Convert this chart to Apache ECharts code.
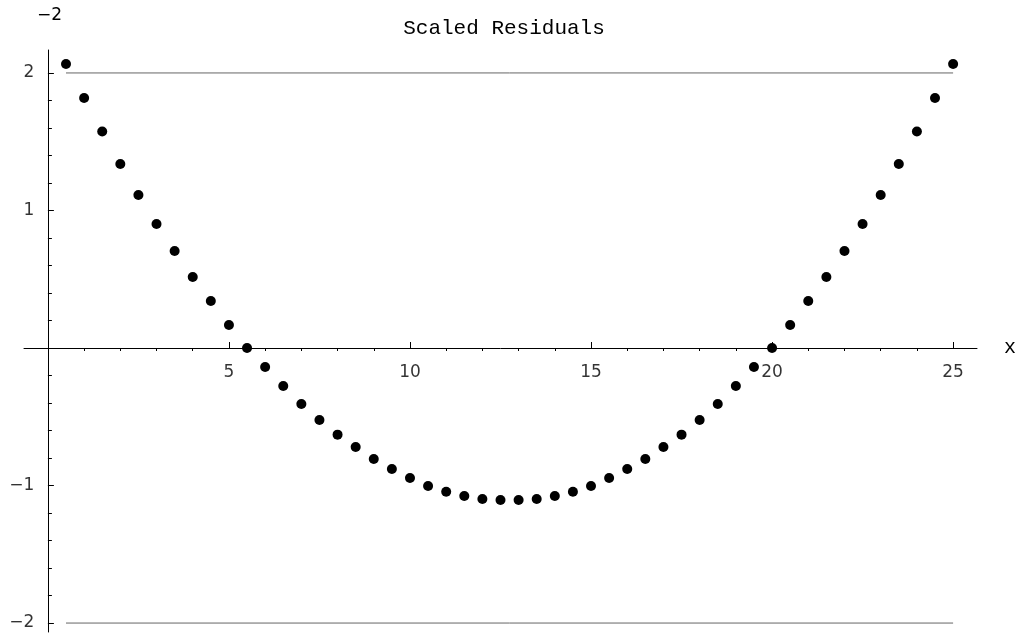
<!DOCTYPE html>
<html><head><meta charset="utf-8">
<script src="https://cdn.jsdelivr.net/npm/echarts@6/dist/echarts.min.js"></script>
<style>html,body{margin:0;padding:0;background:#fff}#c{width:1021px;height:639px}</style>
</head><body><div id="c"></div>
<script>
const xValues = [0.5,1,1.5,2,2.5,3,3.5,4,4.5,5,5.5,6,6.5,7,7.5,8,8.5,9,9.5,10,10.5,11,11.5,12,12.5,13,13.5,14,14.5,15,15.5,16,16.5,17,17.5,18,18.5,19,19.5,20,20.5,21,21.5,22,22.5,23,23.5,24,24.5,25];
const residuals = [2.065,1.818,1.575,1.338,1.113,0.902,0.705,0.516,0.342,0.167,0.0,-0.138,-0.276,-0.407,-0.524,-0.630,-0.720,-0.807,-0.880,-0.945,-1.004,-1.045,-1.076,-1.098,-1.105,-1.105,-1.098,-1.076,-1.045,-1.004,-0.945,-0.880,-0.807,-0.720,-0.630,-0.524,-0.407,-0.276,-0.138,0.0,0.167,0.342,0.516,0.705,0.902,1.113,1.338,1.575,1.818,2.065];
const refLevels = [2,-2];
const refRange = [0.5,25];
const xMajorTicks = [5,10,15,20,25];
const xMinorTicks = [1,2,3,4,6,7,8,9,11,12,13,14,16,17,18,19,21,22,23,24];
const yMajorTicks = [-2,-1,1,2];
const yMinorTicks = [-1.8,-1.6,-1.4,-1.2,-0.8,-0.6,-0.4,-0.2,0.2,0.4,0.6,0.8,1.2,1.4,1.6,1.8];
const titleText = 'Scaled Residuals';
const xName = 'x';
const cornerLabel = '\u22122';

const X_MIN = -0.66, X_MAX = 25.66, Y_MIN = -2.065, Y_MAX = 2.167;
const fmt = v => v < 0 ? '\u2212' + Math.abs(v) : String(v);
const labelFont = {fontFamily:'DejaVu Sans', fontSize:17, color:'#000'};
const clear = 'rgba(0,0,0,0)';

const chart = echarts.init(document.getElementById('c'));
const baseX = {type:'value', min:X_MIN, max:X_MAX, splitLine:{show:false}, axisLabel:{show:false}};
const baseY = {type:'value', min:Y_MIN, max:Y_MAX, splitLine:{show:false}, axisLabel:{show:false}};
chart.setOption({
  animation:false,
  backgroundColor:'#fff',
  title:{text:titleText, left:499, top:13, textAlign:'center',
    textStyle:{fontFamily:'Liberation Mono', fontSize:21, fontWeight:'normal', color:'#000'}},
  graphic:[{type:'text', left:37, top:7, style:{text:cornerLabel, font:'17px "DejaVu Sans"', fill:'#000'}}],
  grid:{left:24, right:44, top:50, bottom:7, containLabel:false, outerBoundsMode:'none'},
  xAxis:[
    Object.assign({}, baseX, {
      name:xName, nameLocation:'end', nameGap:27,
      nameTextStyle:{fontFamily:'Liberation Mono', fontSize:20, color:'#000', verticalAlign:'middle'},
      axisLine:{onZero:true, onZeroAxisIndex:0, lineStyle:{color:'#000', width:1}},
      axisTick:{show:true, inside:true, length:6, customValues:xMajorTicks, lineStyle:{color:'#000'}}
    }),
    Object.assign({}, baseX, {
      axisLine:{show:false, onZero:true, onZeroAxisIndex:1},
      axisTick:{show:true, inside:true, length:3, customValues:xMinorTicks, lineStyle:{color:'#000'}}
    })
  ],
  yAxis:[
    Object.assign({}, baseY, {
      position:'left',
      axisLine:{onZero:true, onZeroAxisIndex:0, lineStyle:{color:'#000', width:1}},
      axisTick:{show:true, inside:true, length:6, customValues:yMajorTicks, lineStyle:{color:'#000'}}
    }),
    Object.assign({}, baseY, {
      position:'left',
      axisLine:{show:false, onZero:true, onZeroAxisIndex:1},
      axisTick:{show:true, inside:true, length:4, customValues:yMinorTicks, lineStyle:{color:'#000'}}
    })
  ],
  series:[
    ...refLevels.map(l => ({type:'line', xAxisIndex:0, yAxisIndex:0, symbol:'none', silent:true,
      data:refRange.map(x => [x, l]), lineStyle:{color:'#666', width:1}})),
    {type:'scatter', xAxisIndex:0, yAxisIndex:0, symbol:'circle', symbolSize:10,
      itemStyle:{color:'#000', opacity:1}, data:xValues.map((x,i) => [x, residuals[i]])},
    {type:'scatter', xAxisIndex:0, yAxisIndex:0, symbol:'circle', symbolSize:1, silent:true,
      itemStyle:{color:clear}, data:xMajorTicks.map(v => [v, 0]),
      label:Object.assign({show:true, position:'bottom', distance:16, formatter:p => fmt(p.value[0])}, labelFont)},
    {type:'scatter', xAxisIndex:0, yAxisIndex:0, symbol:'circle', symbolSize:1, silent:true,
      itemStyle:{color:clear}, data:yMajorTicks.map(v => [0, v]),
      label:Object.assign({show:true, position:'left', distance:13, formatter:p => fmt(p.value[1])}, labelFont)}
  ]
});
</script></body></html>
